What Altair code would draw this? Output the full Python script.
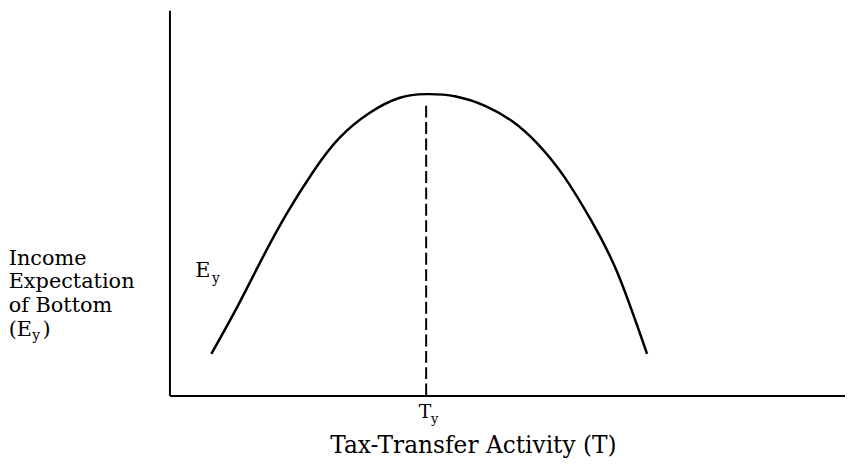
import altair as alt
import pandas as pd

# Curve E_y(T) (arbitrary units, axis origin at 0,0)
T_vals = [0.62, 1.01, 1.35, 1.74, 2.14, 2.52, 2.96, 3.40, 3.80, 4.24, 4.68, 5.07, 5.45, 5.85, 6.24, 6.63, 7.07]
E_vals = [1.08, 2.32, 3.48, 4.73, 5.84, 6.69, 7.33, 7.72, 7.82, 7.76, 7.51, 7.12, 6.53, 5.66, 4.55, 3.19, 1.08]

# Dashed marker at T_y
Ty_pos = [3.80]
Ty_top = [7.63]

# Y-axis caption lines (anchor in data units)
ycap_lines = ["Income", "Expectation", "of Bottom", "(E"]
ycap_x = [-2.38, -2.38, -2.38, -2.38]
ycap_y = [3.39, 2.78, 2.16, 1.54]
ycap_sub = ["y"]
ycap_sub_x = [-2.03]
ycap_sub_y = [1.44]
ycap_close = [")"]
ycap_close_x = [-1.88]
ycap_close_y = [1.54]

# Curve label E_y
curve_lab = ["E"]
curve_lab_x = [0.38]
curve_lab_y = [3.08]
curve_sub = ["y"]
curve_sub_x = [0.63]
curve_sub_y = [2.93]

# T_y tick label
tick_lab = ["T"]
tick_lab_x = [3.69]
tick_lab_y = [-0.59]
tick_sub = ["y"]
tick_sub_x = [3.87]
tick_sub_y = [-0.72]

# X-axis caption
xcap = ["Tax-Transfer Activity (T)"]
xcap_x = [2.38]
xcap_y = [-1.49]

xs = alt.Scale(domain=[0, 10], nice=False, zero=False)
ys = alt.Scale(domain=[0, 10], nice=False, zero=False)
FONT = "DejaVu Serif"

ax = alt.Axis(title=None, labels=False, ticks=False, grid=False, domain=True,
              domainColor="black", domainWidth=2)

curve_df = pd.DataFrame({"T": T_vals, "E": E_vals})
curve = alt.Chart(curve_df).mark_line(color="black", strokeWidth=2.5, interpolate="natural").encode(
    x=alt.X("T:Q", scale=xs, axis=ax),
    y=alt.Y("E:Q", scale=ys, axis=ax),
)

rule_df = pd.DataFrame({"T": Ty_pos, "E0": [0.0], "E1": Ty_top})
rule = alt.Chart(rule_df).mark_rule(color="black", strokeWidth=2, strokeDash=[12, 4.5]).encode(
    x=alt.X("T:Q", scale=xs),
    y=alt.Y("E0:Q", scale=ys),
    y2="E1:Q",
)


def text_layer(labels, xv, yv, size):
    df = pd.DataFrame({"label": labels, "x": xv, "y": yv})
    return alt.Chart(df).mark_text(align="left", baseline="alphabetic", font=FONT,
                                   fontSize=size, color="black").encode(
        x=alt.X("x:Q", scale=xs),
        y=alt.Y("y:Q", scale=ys),
        text="label:N",
    )


layers = [
    curve,
    rule,
    text_layer(ycap_lines, ycap_x, ycap_y, 21),
    text_layer(ycap_sub, ycap_sub_x, ycap_sub_y, 14),
    text_layer(ycap_close, ycap_close_x, ycap_close_y, 21),
    text_layer(curve_lab, curve_lab_x, curve_lab_y, 21),
    text_layer(curve_sub, curve_sub_x, curve_sub_y, 14),
    text_layer(tick_lab, tick_lab_x, tick_lab_y, 19),
    text_layer(tick_sub, tick_sub_x, tick_sub_y, 13),
    text_layer(xcap, xcap_x, xcap_y, 23.5),
]

chart = alt.layer(*layers).properties(
    width=682,
    height=389,
    autosize=alt.AutoSizeParams(type="none"),
    padding={"left": 163, "top": 0, "right": 0, "bottom": 62},
    background="white",
).configure_view(stroke=None)

chart.save("out.html", embed_options={"renderer": "svg", "actions": False})
